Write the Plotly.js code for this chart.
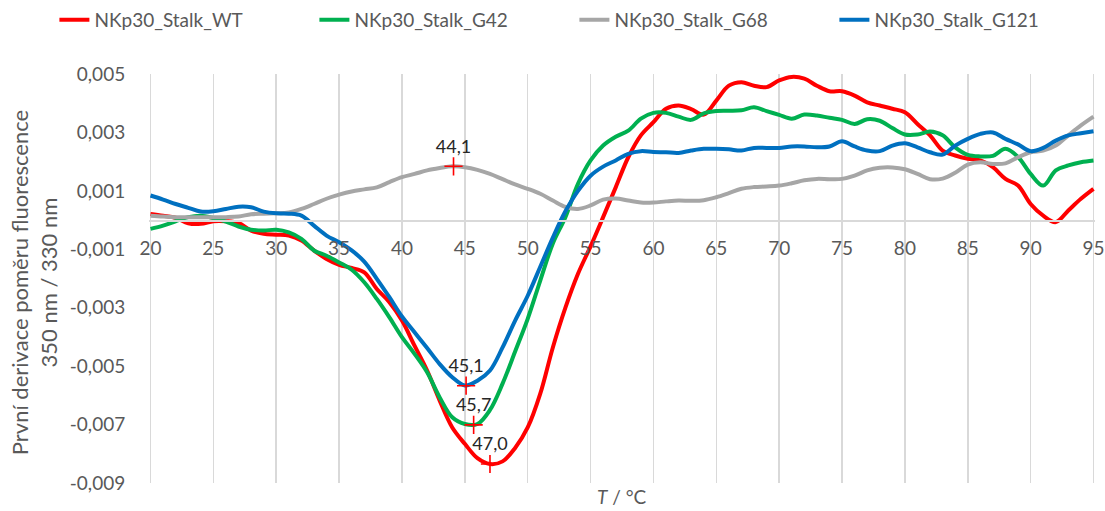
<!DOCTYPE html>
<html>
<head>
<meta charset="utf-8">
<script src="https://cdn.plot.ly/plotly-3.0.1.min.js"></script>
<style>
html,body{margin:0;padding:0;background:#fff;}
#chart{width:1105px;height:511px;}
</style>
</head>
<body>
<div id="chart"></div>
<script>
// Temperature (°C)
const temperature = [20,21,22,23,24,25,26,27,28,29,30,31,32,33,34,35,36,37,38,39,40,41,42,43,44,45,46,47,48,49,50,51,52,53,54,55,56,57,58,59,60,61,62,63,64,65,66,67,68,69,70,71,72,73,74,75,76,77,78,79,80,81,82,83,84,85,86,87,88,89,90,91,92,93,94,95];

const seriesNames = ["NKp30_Stalk_WT","NKp30_Stalk_G42","NKp30_Stalk_G68","NKp30_Stalk_G121"];

const wtValues = [0.00021,0.00015,0.00008,-0.00011,-0.00013,-0.00004,-0.00004,-0.0001,-0.00036,-0.00047,-0.0005,-0.00053,-0.0007,-0.00104,-0.00133,-0.00153,-0.00164,-0.00179,-0.00236,-0.00281,-0.00344,-0.0043,-0.00515,-0.00618,-0.0071,-0.00766,-0.00815,-0.00835,-0.00826,-0.0078,-0.0071,-0.00594,-0.00436,-0.003,-0.00184,-0.0009,0.0001,0.00112,0.00215,0.0029,0.00335,0.00381,0.00392,0.0038,0.00361,0.00409,0.0046,0.00472,0.0046,0.00455,0.00478,0.0049,0.00484,0.0046,0.00441,0.00441,0.00426,0.00403,0.00392,0.00381,0.00369,0.00329,0.0029,0.00238,0.00221,0.0021,0.00204,0.00181,0.00141,0.00118,0.00055,0.00015,-0.00007,0.00033,0.00073,0.00107];

const g42Values = [-0.0003,-0.00019,-0.00004,0.0001,0.00015,0.00007,-0.00005,-0.00022,-0.00033,-0.00036,-0.00033,-0.00042,-0.00064,-0.00104,-0.00122,-0.00145,-0.0017,-0.00213,-0.0027,-0.00333,-0.00401,-0.00458,-0.00521,-0.00607,-0.00675,-0.00698,-0.00698,-0.0065,-0.0056,-0.0045,-0.00338,-0.00207,-0.0008,0.0001,0.00124,0.00204,0.00255,0.00285,0.00306,0.00347,0.00367,0.00367,0.00354,0.00343,0.00365,0.00373,0.00374,0.00376,0.00386,0.00373,0.0036,0.00347,0.00361,0.00358,0.0035,0.00343,0.00329,0.00345,0.0034,0.00315,0.00293,0.00293,0.00303,0.0029,0.00249,0.00223,0.00218,0.0022,0.00244,0.00216,0.00158,0.00118,0.0017,0.00187,0.00198,0.00204];

const g68Values = [0.00015,0.00012,0.0001,0.0001,0.0001,0.0001,0.0001,0.00012,0.0002,0.00022,0.00023,0.00026,0.00038,0.00055,0.00073,0.00087,0.00098,0.00105,0.00112,0.0013,0.00147,0.00158,0.0017,0.00178,0.00184,0.00181,0.00172,0.00158,0.0014,0.00122,0.00107,0.0009,0.00067,0.00045,0.00038,0.0005,0.0007,0.00074,0.00067,0.0006,0.0006,0.00064,0.00067,0.00066,0.00068,0.00078,0.00092,0.00107,0.00113,0.00115,0.00118,0.00126,0.00136,0.00141,0.0014,0.00141,0.00152,0.0017,0.00179,0.0018,0.00174,0.00158,0.0014,0.00142,0.00162,0.0019,0.00198,0.00192,0.00194,0.00215,0.00232,0.00238,0.00255,0.0029,0.00324,0.00354];

const g121Values = [0.00084,0.0007,0.00055,0.00042,0.00029,0.0003,0.00038,0.00046,0.00044,0.00029,0.00023,0.00022,0.00015,-0.00019,-0.00053,-0.00076,-0.00104,-0.00142,-0.00201,-0.00264,-0.0033,-0.00384,-0.00438,-0.00493,-0.00538,-0.00566,-0.0055,-0.00515,-0.00436,-0.00344,-0.00259,-0.0016,-0.0006,0.0003,0.001,0.00152,0.00183,0.00204,0.00227,0.00236,0.00233,0.00232,0.0023,0.00238,0.00244,0.00244,0.00242,0.00238,0.00247,0.00247,0.00247,0.00252,0.00252,0.00249,0.00252,0.0027,0.00252,0.00238,0.00236,0.00255,0.00263,0.00249,0.00232,0.00224,0.00255,0.00278,0.00295,0.003,0.00278,0.00259,0.00236,0.00247,0.00272,0.0029,0.00297,0.00304];

// Marked extrema
const peakT = [44.1, 45.1, 45.7, 47.0];
const peakValues = [0.00184, -0.00567, -0.00701, -0.00835];
const peakLabels = ["44,1", "45,1", "45,7", "47,0"];

const yTickVals = [-0.009,-0.007,-0.005,-0.003,-0.001,0.001,0.003,0.005];
const xTickVals = [20,25,30,35,40,45,50,55,60,65,70,75,80,85,90,95];

const colors = ["#ff0000","#00b050","#a6a6a6","#0070c0"];
const allValues = [wtValues, g42Values, g68Values, g121Values];

const FONT = "Lato, 'Open Sans', sans-serif";
const traces = [];
[0,1,2,3].forEach(i => {
  traces.push({
    x: temperature, y: allValues[i], type: "scatter", mode: "lines",
    name: seriesNames[i],
    line: {color: colors[i], width: 4, shape: "spline", smoothing: 1},
    hoverinfo: "skip"
  });
});
traces.push({
  x: peakT, y: peakValues, type: "scatter", mode: "markers+text",
  text: peakLabels, textposition: "top center",
  textfont: {family: FONT, size: 18, color: "#262626"},
  marker: {symbol: "cross-thin", size: 13, color: "#ff0000", line: {color: "#ff0000", width: 1.6}},
  showlegend: false, hoverinfo: "skip", cliponaxis: false
});

const yRange = [-0.009, 0.005];
const zeroPos = (0 - yRange[0]) / (yRange[1] - yRange[0]);

const layout = {
  width: 1105, height: 511,
  margin: {l: 149, r: 10, t: 74, b: 28, autoexpand: false},
  paper_bgcolor: "#ffffff", plot_bgcolor: "#ffffff",
  font: {family: FONT, color: "#595959", size: 19},
  separators: ", ",
  showlegend: true,
  legend: {
    orientation: "h", x: -0.1, xanchor: "left", y: 1.132, yanchor: "middle",
    font: {family: FONT, size: 19, color: "#595959"},
    entrywidth: 215, entrywidthmode: "pixels", traceorder: "normal"
  },
  xaxis: {
    range: [19.88, 95.12], tickvals: xTickVals, ticktext: xTickVals.map(String),
    anchor: "free", position: zeroPos,
    showgrid: true, gridcolor: "#d9d9d9", gridwidth: 1.5,
    showline: true, linecolor: "#d9d9d9", linewidth: 1.5,
    zeroline: false, ticks: "outside", ticklen: 11, tickcolor: "rgba(0,0,0,0)",
    tickfont: {family: FONT, size: 19, color: "#595959"},
    fixedrange: true
  },
  yaxis: {
    range: yRange, tickvals: yTickVals,
    ticktext: yTickVals.map(v => v.toFixed(3).replace(".", ",")),
    anchor: "free", position: 0,
    showgrid: false, zeroline: false, showline: false,
    ticks: "outside", ticklen: 20, tickcolor: "rgba(0,0,0,0)",
    tickfont: {family: FONT, size: 19, color: "#595959"},
    fixedrange: true
  },
  annotations: [
    {text: "První derivace poměru fluorescence<br>350 nm / 330 nm", textangle: -90,
     xref: "paper", yref: "paper", x: -0.122, y: 0.49, xanchor: "center", yanchor: "middle",
     showarrow: false, font: {family: FONT, size: 22, color: "#595959"}},
    {text: "<i>T</i> / °C", xref: "paper", yref: "paper", x: 0.5, y: -0.034,
     xanchor: "center", yanchor: "middle", showarrow: false,
     font: {family: FONT, size: 19, color: "#595959"}}
  ]
};

Plotly.newPlot("chart", traces, layout, {displayModeBar: false, staticPlot: true});
</script>
</body>
</html>
